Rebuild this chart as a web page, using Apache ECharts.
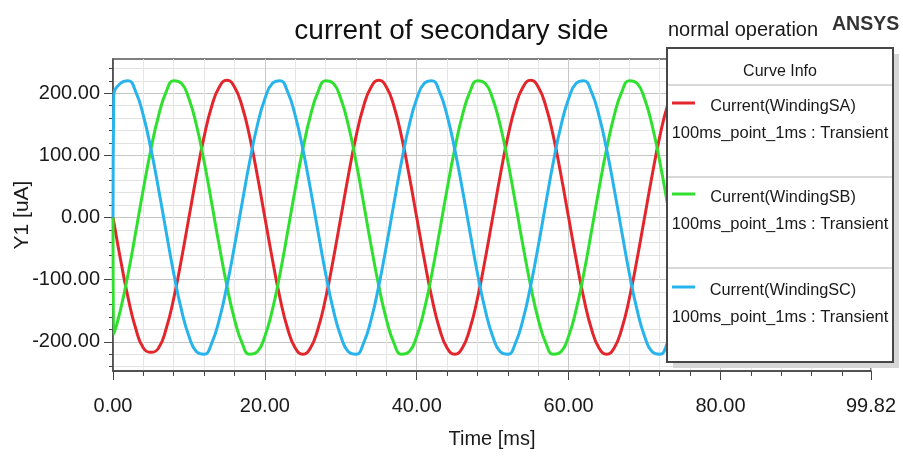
<!DOCTYPE html>
<html>
<head>
<meta charset="utf-8">
<script src="https://cdn.jsdelivr.net/npm/echarts@6/dist/echarts.min.js"></script>
<style>
html,body{margin:0;padding:0;background:#fff;}
#chart{width:903px;height:457px;}
</style>
</head>
<body>
<div id="chart"></div>
<script>
// ---- data ----
const timeMs = [0, 0.1, 1, 2, 3, 4, 5, 6, 7, 8, 9, 10, 11, 12, 13, 14, 15, 16, 17, 18, 19, 20,
  21, 22, 23, 24, 25, 26, 27, 28, 29, 30, 31, 32, 33, 34, 35, 36, 37, 38, 39, 40,
  41, 42, 43, 44, 45, 46, 47, 48, 49, 50, 51, 52, 53, 54, 55, 56, 57, 58, 59, 60,
  61, 62, 63, 64, 65, 66, 67, 68, 69, 70, 71, 72, 73, 74, 75, 76];

const currentSA = [0, -7,
  -68, -130, -179, -210, -217, -210, -179, -130, -68, 0, 68, 130, 179, 210, 221, 210, 179, 130, 68, 0,
  -68, -130, -179, -210, -220, -210, -179, -130, -68, 0, 68, 130, 179, 210, 221, 210, 179, 130, 68, 0,
  -68, -130, -179, -210, -220, -210, -179, -130, -68, 0, 68, 130, 179, 210, 221, 210, 179, 130, 68, 0,
  -68, -130, -179, -210, -220, -210, -179, -130, -68, 0, 68, 130, 179, 210, 221, 210];

const currentSB = [0, -188,
  -148, -90, -23, 46, 110, 164, 202, 220, 216, 191, 148, 90, 23, -46, -110, -164, -202, -220, -216, -191,
  -148, -90, -23, 46, 110, 164, 202, 220, 216, 191, 148, 90, 23, -46, -110, -164, -202, -220, -216, -191,
  -148, -90, -23, 46, 110, 164, 202, 220, 216, 191, 148, 90, 23, -46, -110, -164, -202, -220, -216, -191,
  -148, -90, -23, 46, 110, 164, 202, 220, 216, 191, 148, 90, 23, -46, -110, -164];

const currentSC = [0, 195,
  216, 220, 202, 164, 110, 46, -23, -90, -148, -191, -216, -220, -202, -164, -110, -46, 23, 90, 148, 191,
  216, 220, 202, 164, 110, 46, -23, -90, -148, -191, -216, -220, -202, -164, -110, -46, 23, 90, 148, 191,
  216, 220, 202, 164, 110, 46, -23, -90, -148, -191, -216, -220, -202, -164, -110, -46, 23, 90, 148, 191,
  216, 220, 202, 164, 110, 46, -23, -90, -148, -191, -216, -220, -202, -164, -110, -46];

const seriesNames = ['Current(WindingSA)', 'Current(WindingSB)', 'Current(WindingSC)'];
const setupLabel = '100ms_point_1ms : Transient';
const yMajorTicks = [-200, -100, 0, 100, 200];
const yMinorTicks = [-240, -220, -200, -180, -160, -140, -120, -100, -80, -60, -40, -20, 0,
  20, 40, 60, 80, 100, 120, 140, 160, 180, 200, 220, 240];

// ---- chart ----
const FONT = '"Liberation Sans", Arial, sans-serif';
const colors = ['#e3262b', '#2fe02f', '#27b3ec'];
const seriesData = [currentSA, currentSB, currentSC];

function pairs(ys) { return timeMs.map((t, i) => [t, ys[i]]); }

const chart = echarts.init(document.getElementById('chart'), null, {renderer: 'canvas'});

const legendX = 667, legendY = 48, legendW = 226, legendH = 314;
const entryY = [103, 194, 287];
const graphics = [
  {type: 'rect', z: 100, shape: {x: legendX + 6, y: legendY + 6, width: legendW, height: legendH}, style: {fill: '#d6d6d6'}},
  {type: 'rect', z: 101, shape: {x: legendX, y: legendY, width: legendW, height: legendH}, style: {fill: '#ffffff', stroke: '#474747', lineWidth: 2}},
  {type: 'text', z: 102, x: 780, y: 72, style: {text: 'Curve Info', font: '16px ' + FONT, fill: '#1a1a1a', align: 'center', verticalAlign: 'middle'}},
  {type: 'line', z: 102, shape: {x1: legendX + 1, y1: 85, x2: legendX + legendW - 1, y2: 85}, style: {stroke: '#cccccc', lineWidth: 1.5}},
  {type: 'line', z: 102, shape: {x1: legendX + 1, y1: 177, x2: legendX + legendW - 1, y2: 177}, style: {stroke: '#cccccc', lineWidth: 1.5}},
  {type: 'line', z: 102, shape: {x1: legendX + 1, y1: 268, x2: legendX + legendW - 1, y2: 268}, style: {stroke: '#cccccc', lineWidth: 1.5}},
  {type: 'text', z: 5, x: 668, y: 30, style: {text: 'normal operation', font: '20px ' + FONT, fill: '#1a1a1a', align: 'left', verticalAlign: 'middle'}},
  {type: 'text', z: 5, x: 832, y: 25, style: {text: 'ANSYS', font: 'bold 19.5px ' + FONT, fill: '#333', align: 'left', verticalAlign: 'middle'}}
];
seriesNames.forEach((name, i) => {
  const y = entryY[i];
  graphics.push({type: 'line', z: 102, shape: {x1: 672, y1: y, x2: 695, y2: y}, style: {stroke: colors[i], lineWidth: 3}});
  graphics.push({type: 'text', z: 102, x: 783, y: y + 4, style: {text: name, font: '16.3px ' + FONT, fill: '#1a1a1a', align: 'center', verticalAlign: 'middle'}});
  graphics.push({type: 'text', z: 102, x: 780, y: y + 30, style: {text: setupLabel, font: '16.5px ' + FONT, fill: '#1a1a1a', align: 'center', verticalAlign: 'middle'}});
});

const option = {
  backgroundColor: '#ffffff',
  animation: false,
  title: {
    text: 'current of secondary side',
    left: 'center',
    top: 12,
    textStyle: {fontFamily: FONT, fontSize: 28, fontWeight: 'normal', color: '#111'}
  },
  grid: {
    left: 113, right: 32, top: 59, bottom: 86,
    outerBoundsMode: 'none', containLabel: false,
    show: true, borderColor: '#555', borderWidth: 1.5, backgroundColor: '#fff'
  },
  xAxis: {
    type: 'value', min: 0, max: 99.82, interval: 20,
    name: 'Time [ms]', nameLocation: 'middle', nameGap: 58,
    nameTextStyle: {fontFamily: FONT, fontSize: 20, color: '#1a1a1a'},
    axisLine: {show: true, onZero: false, lineStyle: {color: '#444', width: 1.5}},
    axisTick: {show: true, length: 9, lineStyle: {color: '#444'}},
    minorTick: {show: true, splitNumber: 5, length: 5, lineStyle: {color: '#444'}},
    axisLabel: {fontFamily: FONT, fontSize: 20, color: '#1a1a1a', margin: 25, formatter: v => v.toFixed(2)},
    splitLine: {show: true, lineStyle: {color: '#c9c9c9', width: 1}},
    minorSplitLine: {show: true, lineStyle: {color: '#e6e6e6', width: 1}}
  },
  yAxis: [
    {
      type: 'value', min: -247, max: 255,
      name: 'Y1 [uA]', nameLocation: 'middle', nameGap: 80, nameMoveOverlap: false,
      nameTextStyle: {fontFamily: FONT, fontSize: 21, color: '#1a1a1a'},
      axisLine: {show: true, onZero: false, lineStyle: {color: '#444', width: 1.5}},
      axisTick: {show: true, length: 4, customValues: yMinorTicks, lineStyle: {color: '#444'}},
      axisLabel: {fontFamily: FONT, fontSize: 20, color: '#1a1a1a', margin: 13, customValues: yMajorTicks, formatter: v => v.toFixed(2)},
      splitLine: {show: true, lineStyle: {color: '#e2e2e2', width: 1}}
    },
    {
      type: 'value', min: -247, max: 255, position: 'left',
      axisLine: {show: false},
      axisTick: {show: true, length: 9, customValues: yMajorTicks, lineStyle: {color: '#444'}},
      axisLabel: {show: false},
      splitLine: {show: true, lineStyle: {color: '#c6c6c6', width: 1}}
    }
  ],
  series: seriesNames.map((name, i) => ({
    name: name,
    type: 'line',
    xAxisIndex: 0,
    yAxisIndex: 0,
    data: pairs(seriesData[i]),
    showSymbol: false,
    smooth: 0.5,
    z: 3,
    lineStyle: {color: colors[i], width: 3},
    itemStyle: {color: colors[i]}
  })),
  graphic: graphics
};
chart.setOption(option);
</script>
</body>
</html>
